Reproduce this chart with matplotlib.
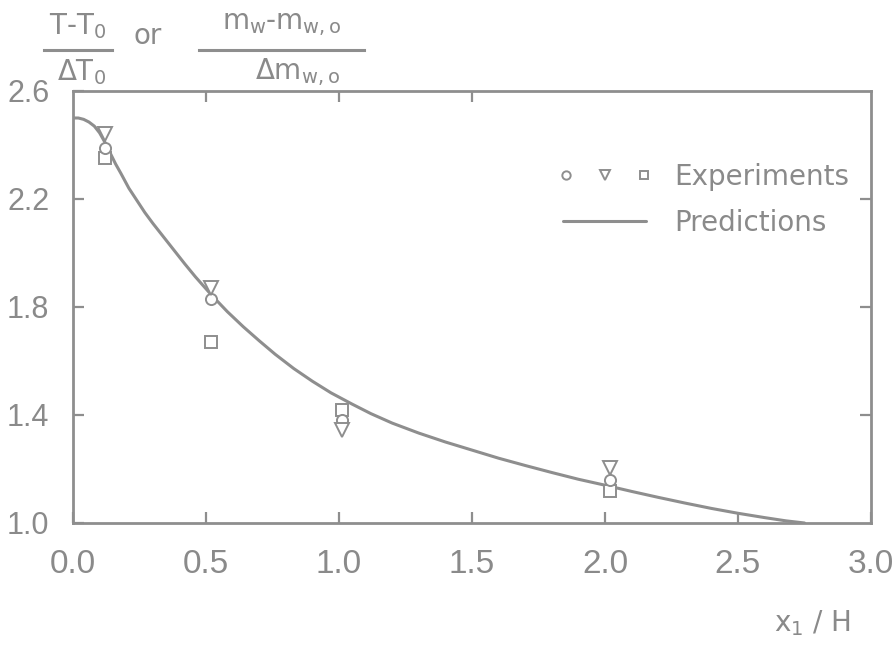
import matplotlib.pyplot as plt
from matplotlib.legend_handler import HandlerTuple

# experiments (three series at the same stations)
x_exp = [0.12, 0.52, 1.01, 2.02]
y_circle = [2.39, 1.83, 1.38, 1.16]
y_triangle = [2.44, 1.87, 1.345, 1.205]
y_square = [2.35, 1.67, 1.42, 1.12]

# prediction curve
x_pred = [0.0, 0.02, 0.04, 0.06, 0.08, 0.10, 0.12, 0.14, 0.16, 0.18, 0.21,
          0.24, 0.27, 0.30, 0.34, 0.38, 0.42, 0.46, 0.52, 0.58, 0.64, 0.70,
          0.76, 0.83, 0.9, 0.97, 1.05, 1.12, 1.2, 1.3, 1.4, 1.5, 1.6, 1.7,
          1.8, 1.9, 2.0, 2.1, 2.2, 2.3, 2.4, 2.5, 2.6, 2.68, 2.75]
y_pred = [2.50, 2.50, 2.495, 2.485, 2.47, 2.445, 2.41, 2.37, 2.33, 2.295, 2.24,
          2.195, 2.15, 2.11, 2.06, 2.01, 1.96, 1.912, 1.845, 1.783, 1.727, 1.675,
          1.625, 1.572, 1.525, 1.482, 1.44, 1.405, 1.37, 1.333, 1.30, 1.27, 1.24,
          1.213, 1.187, 1.162, 1.14, 1.117, 1.095, 1.074, 1.054, 1.036, 1.02,
          1.008, 1.00]

x_ticks = [0.0, 0.5, 1.0, 1.5, 2.0, 2.5, 3.0]
x_labels = ["0.0", "0.5", "1.0", "1.5", "2.0", "2.5", "3.0"]
y_ticks = [1.0, 1.4, 1.8, 2.2, 2.6]
y_labels = ["1.0", "1.4", "1.8", "2.2", "2.6"]

GRAY = "#8e8e8e"
TXT = "#8a8a8a"
NUM_FONT = "Liberation Sans"

plt.rcParams["mathtext.fontset"] = "dejavusans"

fig = plt.figure(figsize=(8.95, 6.47), dpi=100)
ax = fig.add_axes([73 / 895, 1 - 523 / 647, (871 - 73) / 895, (523 - 91) / 647])

ax.plot(x_pred, y_pred, color=GRAY, lw=2.2, zorder=2, solid_capstyle="round")

mk = dict(linestyle="none", markerfacecolor="white", markeredgecolor=GRAY,
          markeredgewidth=1.4, zorder=3)
sq, = ax.plot(x_exp, y_square, marker="s", markersize=8, **mk)
ci, = ax.plot(x_exp, y_circle, marker="o", markersize=8, **mk)
tr, = ax.plot(x_exp, y_triangle, marker="v", markersize=9.5, **mk)

ax.set_xlim(0, 3.0)
ax.set_ylim(1.0, 2.6)

for s in ax.spines.values():
    s.set_color(GRAY)
    s.set_linewidth(2.0)

ax.set_xticks(x_ticks)
ax.set_xticklabels(x_labels, fontfamily=NUM_FONT, fontsize=24, color=TXT)
ax.set_yticks(y_ticks)
ax.set_yticklabels(y_labels, fontfamily=NUM_FONT, fontsize=22, color=TXT)
ax.tick_params(direction="in", length=8, width=1.6, color=GRAY)
ax.tick_params(axis="x", pad=19)
ax.tick_params(axis="y", pad=17)

top = ax.secondary_xaxis("top")
top.set_xticks([0.5, 1.0, 1.5])
top.set_xticklabels([])
top.tick_params(direction="in", length=8, width=1.6, color=GRAY)
top.spines["top"].set_visible(False)

right = ax.secondary_yaxis("right")
right.set_yticks([1.4, 1.8, 2.2])
right.set_yticklabels([])
right.tick_params(direction="in", length=8, width=1.6, color=GRAY)
right.spines["right"].set_visible(False)

leg = ax.legend([(ci, tr, sq), ax.lines[0]], ["Experiments", "Predictions"],
                handler_map={tuple: HandlerTuple(ndivide=None, pad=1.2)},
                loc="upper left", bbox_to_anchor=(563 / 895, 1 - 163 / 647),
                bbox_transform=fig.transFigure, frameon=False,
                fontsize=20, handlelength=3.0, handletextpad=1.0,
                labelspacing=0.65, borderpad=0, borderaxespad=0,
                markerscale=0.75)
for t in leg.get_texts():
    t.set_color(TXT)

# y label drawn as two stacked fractions
tkw = dict(color=TXT, fontsize=20, ha="center", va="center")
fig.text(78 / 895, 1 - 26 / 647, r"T-T$_0$", **tkw)
fig.text(82 / 895, 1 - 72 / 647, r"$\Delta$T$_0$", **tkw)
fig.text(148 / 895, 1 - 36 / 647, "or", **tkw)
fig.text(282 / 895, 1 - 24 / 647, r"m$_{\rm w}$-m$_{\rm w,o}$", **tkw)
fig.text(298 / 895, 1 - 72 / 647, r"$\Delta$m$_{\rm w,o}$", **tkw)
fig.add_artist(plt.Line2D([44 / 895, 112 / 895], [1 - 50 / 647] * 2,
                          transform=fig.transFigure, color=GRAY, lw=2.2))
fig.add_artist(plt.Line2D([199 / 895, 364 / 895], [1 - 50 / 647] * 2,
                          transform=fig.transFigure, color=GRAY, lw=2.2))

fig.text(812 / 895, 1 - 623 / 647, r"x$_1$ / H", **tkw)

fig.savefig("out.png", dpi=100, facecolor="white")
